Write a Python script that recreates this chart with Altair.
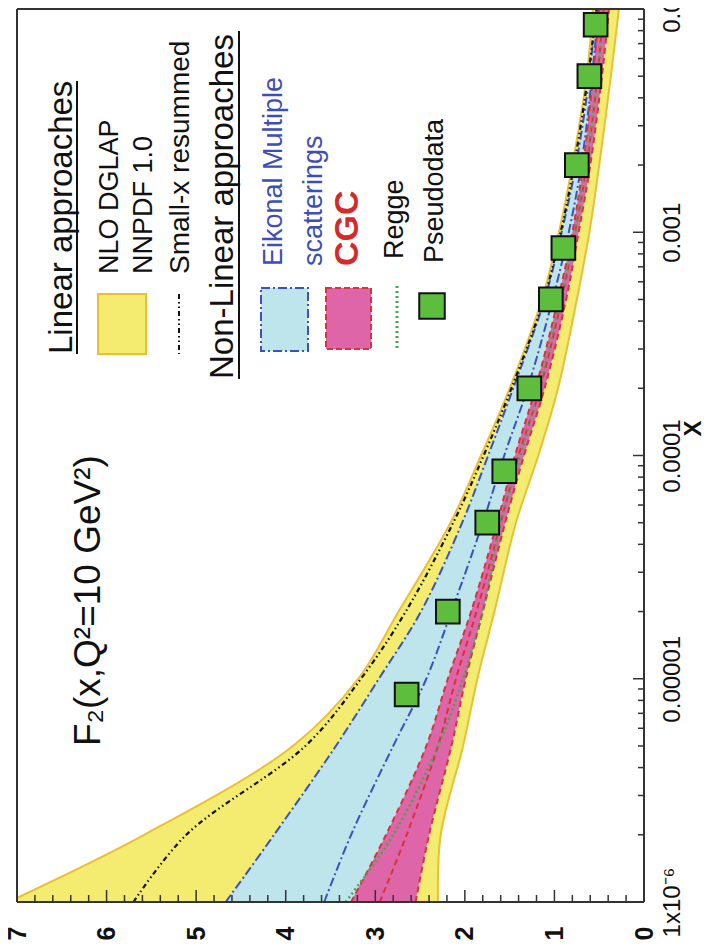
import altair as alt
import pandas as pd

# ---------------- data ----------------
x_grid = [1e-6, 2e-6, 5e-6, 1e-5, 2e-5, 5e-5, 1e-4, 2e-4, 5e-4, 1e-3, 2e-3, 5e-3, 1e-2]
nnpdf_upper = [7.10, 5.58, 3.92, 3.19, 2.74, 2.16, 1.82, 1.50, 1.14, 0.95, 0.80, 0.64, 0.57]
nnpdf_lower = [2.30, 2.27, 2.02, 1.86, 1.67, 1.43, 1.18, 0.96, 0.75, 0.61, 0.50, 0.37, 0.28]
smallx_resummed = [5.70, 5.11, 3.78, 3.16, 2.66, 2.13, 1.79, 1.48, 1.12, 0.93, 0.78, 0.625, 0.53]
eikonal_upper = [4.67, 4.13, 3.44, 2.96, 2.49, 2.03, 1.74, 1.46, 1.11, 0.92, 0.76, 0.61, 0.54]
eikonal_inner = [3.57, 3.27, 2.80, 2.43, 2.15, 1.80, 1.56, 1.30, 1.02, 0.84, 0.70, 0.58, 0.51]
eikonal_lower = [2.75, 2.55, 2.25, 2.05, 1.85, 1.58, 1.37, 1.14, 0.90, 0.75, 0.62, 0.50, 0.43]
cgc_upper = [3.27, 2.88, 2.43, 2.19, 1.93, 1.64, 1.44, 1.21, 0.96, 0.80, 0.68, 0.57, 0.50]
cgc_mid = [2.95, 2.65, 2.30, 2.10, 1.87, 1.60, 1.40, 1.16, 0.92, 0.77, 0.64, 0.52, 0.45]
cgc_lower = [2.55, 2.40, 2.15, 1.99, 1.80, 1.55, 1.34, 1.11, 0.87, 0.73, 0.60, 0.47, 0.39]
regge = [3.33, 2.80, 2.30, 2.02, 1.80, 1.60, 1.38, 1.17, 0.93, 0.77, 0.65, 0.52, 0.46]

pseudo_x = [8.5e-6, 2e-5, 5e-5, 8.5e-5, 2e-4, 5e-4, 8.5e-4, 2e-3, 5e-3, 8.5e-3]
pseudo_f2 = [2.65, 2.19, 1.75, 1.56, 1.28, 1.04, 0.90, 0.75, 0.61, 0.54]

f2_ticks = [0, 1, 2, 3, 4, 5, 6, 7]
f2_minor = [round(i * 0.2, 1) for i in range(36) if i % 5 != 0]
x_ticks = [1e-6, 1e-5, 1e-4, 1e-3, 1e-2]
x_tick_labels = ["1x10⁻⁶", "0.00001", "0.0001", "0.001", "0.01"]
x_minor = [k * d for d in [1e-6, 1e-5, 1e-4, 1e-3] for k in range(2, 10)]

df = pd.DataFrame({
    "x": x_grid, "nnpdf_hi": nnpdf_upper, "nnpdf_lo": nnpdf_lower,
    "smallx": smallx_resummed, "eik_hi": eikonal_upper, "eik_in": eikonal_inner,
    "eik_lo": eikonal_lower, "cgc_hi": cgc_upper, "cgc_mid": cgc_mid,
    "cgc_lo": cgc_lower, "regge": regge,
})
pdf = pd.DataFrame({"x": pseudo_x, "f2": pseudo_f2})

# ---------------- styling ----------------
W, H = 627, 893
FONT = "Liberation Sans"
YELLOW = "#F3EC70"
YELLOW_EDGE = "#EBC030"
CYAN = "#BEE4EC"
PINK = "#DE66A8"
RED = "#D8323A"
BLUE = "#3A52C0"
GREEN = "#3FA84A"
SQ_GREEN = "#5DBE3E"

xs = alt.Scale(domain=[0, 7], reverse=True, nice=False, zero=False)
ys = alt.Scale(type="log", domain=[1e-6, 1e-2], nice=False)

label_expr = " : ".join(
    f"datum.value < {v * 1.5} ? '{t}'" for v, t in zip(x_ticks[:-1], x_tick_labels[:-1])
) + f" : '{x_tick_labels[-1]}'"

x_axis = alt.Axis(values=f2_ticks, format="d", labelAngle=270, labelAlign="right",
                  labelBaseline="middle", labelFontSize=25, labelFontWeight="bold",
                  labelFont=FONT, labelPadding=24, ticks=False, domain=False, grid=False,
                  title=None, labelFlush=False, labelColor="#111111")
y_axis = alt.Axis(orient="right", values=x_ticks, labelExpr=label_expr, labelAngle=270,
                  labelAlign="center", labelBaseline="top", labelFontSize=24,
                  labelFont=FONT, labelPadding=16, ticks=False, domain=False, grid=False,
                  labelFlush=False, labelOverlap=False, labelColor="#111111",
                  title="X", titleAngle=270, titleFontSize=24, titleFontWeight="bold",
                  titleFont=FONT, titleX=49, titleY=419, titleAlign="center",
                  titleBaseline="middle", titleColor="#111111")


def X(field):
    return alt.X(field, scale=xs, axis=x_axis)


def Y(field):
    return alt.Y(field, scale=ys, axis=y_axis)


base = alt.Chart(df)

yellow = base.mark_area(orient="horizontal", clip=True, color=YELLOW, stroke=YELLOW_EDGE,
                        strokeWidth=2, interpolate="catmull-rom").encode(
    y=Y("x:Q"), x=X("nnpdf_hi:Q"), x2="nnpdf_lo:Q")
cyan = base.mark_area(orient="horizontal", clip=True, color=CYAN,
                      interpolate="catmull-rom").encode(
    y=Y("x:Q"), x=X("eik_hi:Q"), x2="eik_lo:Q")
pink = base.mark_area(orient="horizontal", clip=True, color=PINK,
                      interpolate="catmull-rom").encode(
    y=Y("x:Q"), x=X("cgc_hi:Q"), x2="cgc_lo:Q")


def curve(col, color, dash, width=2.0):
    return base.mark_line(clip=True, color=color, strokeDash=dash, strokeWidth=width,
                          interpolate="catmull-rom").encode(
        y=Y("x:Q"), x=X(f"{col}:Q"), order="x:Q")


lines = [
    curve("eik_hi", BLUE, [9, 3, 2, 3]),
    curve("eik_in", BLUE, [9, 3, 2, 3]),
    curve("cgc_hi", RED, [6, 4]),
    curve("cgc_mid", RED, [6, 4]),
    curve("cgc_lo", RED, [6, 4]),
    curve("regge", GREEN, [2, 3], 2.5),
    curve("smallx", "#111111", [5, 3, 1.5, 3, 1.5, 3], 2.2),
]

squares = alt.Chart(pdf).mark_square(size=560, fill=SQ_GREEN, stroke="#111111",
                                     strokeWidth=2, opacity=1).encode(
    y=Y("x:Q"), x=X("f2:Q"))

# axis ticks (inward)
tick_layers = []
for vals, ln in [(f2_ticks, 12), (f2_minor, 7)]:
    tick_layers.append(alt.Chart(pd.DataFrame({"t": vals})).mark_rule(
        color="#333333", strokeWidth=1.5).encode(
        x=X("t:Q"), y=alt.value(H), y2=alt.value(H - ln)))
for vals, ln in [(x_ticks, 11), (x_minor, 6)]:
    tick_layers.append(alt.Chart(pd.DataFrame({"t": vals})).mark_rule(
        color="#333333", strokeWidth=1.5).encode(
        y=Y("t:Q"), x=alt.value(W), x2=alt.value(W - ln)))


# ---------------- legend / annotations (rotated) ----------------
def label(text, x, y, size=27, color="#111111", weight="normal"):
    return alt.Chart(pd.DataFrame({"t": [text]})).mark_text(
        angle=270, align="left", baseline="middle", font=FONT, fontSize=size,
        color=color, fontWeight=weight).encode(
        text="t:N", x=alt.value(x), y=alt.value(y))


def vrule(x, y1, y2, color="#111111", dash=None, width=2.0):
    kw = dict(color=color, strokeWidth=width)
    if dash:
        kw["strokeDash"] = dash
    return alt.Chart(pd.DataFrame({"a": [0]})).mark_rule(**kw).encode(
        x=alt.value(x), y=alt.value(y1), y2=alt.value(y2))


def hrule(y, x1, x2, color="#333333", width=2.0):
    return alt.Chart(pd.DataFrame({"a": [0]})).mark_rule(color=color, strokeWidth=width).encode(
        y=alt.value(y), x=alt.value(x1), x2=alt.value(x2))


def box(x1, x2, y1, y2, fill, stroke, dash=None):
    kw = dict(fill=fill, stroke=stroke, strokeWidth=2)
    if dash:
        kw["strokeDash"] = dash
    return alt.Chart(pd.DataFrame({"a": [0]})).mark_rect(**kw).encode(
        x=alt.value(x1), x2=alt.value(x2), y=alt.value(y1), y2=alt.value(y2))


frame = [
    hrule(0, 0, W), hrule(H, 0, W),
    vrule(0, 0, H, color="#333333"), vrule(W, 0, H, color="#333333"),
]

legend = [
    label("F₂(x,Q²=10 GeV²)", 72, 737, size=37),
    label("Linear approaches", 45, 345, size=33),
    vrule(60, 72, 345),
    box(81, 129, 285, 345, YELLOW, YELLOW_EDGE),
    label("NLO DGLAP", 93, 265),
    label("NNPDF 1.0", 127, 265),
    vrule(162, 285, 345, dash=[5, 3, 1.5, 3, 1.5, 3]),
    label("Small-x resummed", 164, 265, size=28),
    label("Non-Linear approaches", 206, 370, size=33),
    vrule(222, 22, 370),
    box(244, 291, 279, 342, CYAN, BLUE, [9, 3, 2, 3]),
    label("Eikonal Multiple", 257, 257, color="#3D4FB5"),
    label("scatterings", 297, 257, color="#3D4FB5"),
    box(309, 354, 279, 340, PINK, RED, [6, 3]),
    label("CGC", 331, 257, size=34, color="#D42A2A", weight="bold"),
    vrule(380, 277, 342, color=GREEN, dash=[2, 3], width=3),
    label("Regge", 378, 250),
    alt.Chart(pd.DataFrame({"a": [0]})).mark_square(
        size=650, fill=SQ_GREEN, stroke="#111111", strokeWidth=2, opacity=1).encode(
        x=alt.value(415), y=alt.value(297)),
    label("Pseudodata", 418, 254),
]

chart = alt.layer(yellow, cyan, pink, *lines, squares, *tick_layers, *frame, *legend).properties(
    width=W, height=H,
    autosize=alt.AutoSizeParams(type="none"),
    padding={"left": 9, "top": 1, "right": 60, "bottom": 42},
).configure_view(stroke=None).configure(background="white")

chart.save("out.html", embed_options={"renderer": "svg", "actions": False})
